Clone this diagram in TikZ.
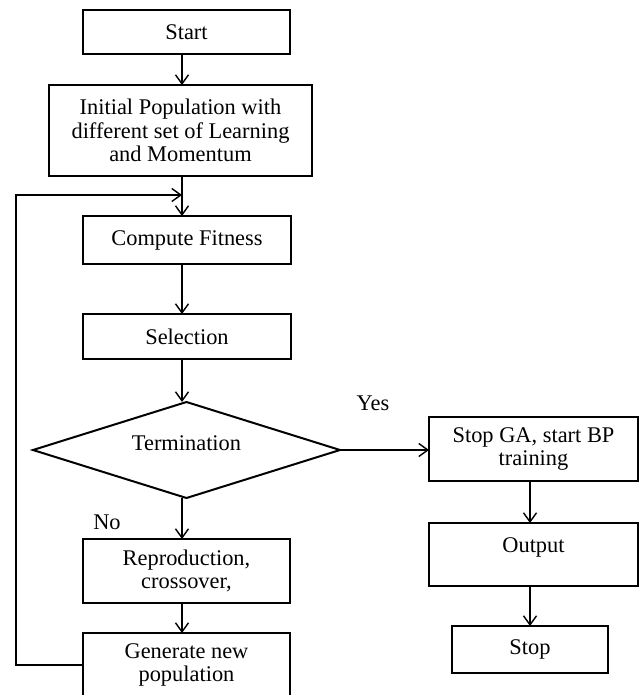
\documentclass[tikz,border=0pt]{standalone}
\usepackage{fontspec}
\setmainfont{Liberation Serif}
\usetikzlibrary{arrows.meta, positioning, shapes.geometric}

\begin{document}
\begin{tikzpicture}[
        box/.style={rectangle, draw=black, line width=1pt, outer sep=0pt, inner sep=0pt, align=center, font=\fontsize{11.2}{11.75}\selectfont},
        dec/.style={diamond, aspect=3.2, draw=black, line width=1pt, outer sep=0pt, inner sep=0pt, font=\fontsize{11.2}{11.75}\selectfont},
        lbl/.style={font=\fontsize{11.2}{11.75}\selectfont, inner sep=0pt},
        arr/.style={-{Straight Barb[length=4.5pt, width=6.5pt]}, line width=0.7pt},
    ]
        \useasboundingbox (0pt,0pt) rectangle (321pt,-347.5pt);
        \clip (0pt,0pt) rectangle (321pt,-347.5pt);
        % left column
        \node[box, minimum width=103.5pt, minimum height=22pt] (start) at (93.25pt,-16pt) {Start};
        \node[box, minimum width=131.5pt, minimum height=45.5pt, below=15.5pt of start, xshift=-3pt] (init) {Initial Population with\\different set of Learning\\and Momentum};
        \node[box, minimum width=104pt, minimum height=24pt, below=20pt of init, xshift=3.25pt] (fit) {Compute Fitness};
        \node[box, minimum width=104pt, minimum height=22.5pt, below=25pt of fit] (sel) {Selection};
        \node[dec, minimum width=153.5pt, minimum height=48pt, below=21.5pt of sel, xshift=-0.25pt, text height=7.5pt, text depth=7pt] (term) {Termination};
        \node[box, minimum width=103.5pt, minimum height=32pt, below=20.5pt of term] (repro) {Reproduction,\\crossover,};
        \node[box, minimum width=103.5pt, minimum height=32pt, below=15pt of repro] (gen) {Generate new\\population};
        % right column
        \node[box, minimum width=104.5pt, minimum height=32pt, right=44.5pt of term, yshift=0.5pt] (stopga) {Stop GA, start BP\\training};
        \node[box, minimum width=104.5pt, minimum height=31.5pt, below=21pt of stopga, text height=7.5pt, text depth=9.6pt] (out) {Output};
        \node[box, minimum width=78pt, minimum height=23.5pt, below=20pt of out, xshift=-1.75pt] (stop) {Stop};
        % labels
        \node[lbl] (yes) at (186.5pt,-201.5pt) {Yes};
        \node[lbl] (no) at (53.5pt,-261pt) {No};
        % connectors
        \coordinate (axis) at (91pt,0pt);
        \coordinate (join) at (91pt,-97.5pt);
        \draw[arr] (start.south -| axis) -- (init.north -| axis);
        \draw[arr] (init.south -| axis) -- (fit.north -| axis);
        \draw[arr] (fit.south -| axis) -- (sel.north -| axis);
        \draw[arr] (sel.south -| axis) -- (term.north -| axis);
        \draw[arr] (term.south -| axis) -- (repro.north -| axis);
        \draw[arr] (repro.south -| axis) -- (gen.north -| axis);
        \draw[arr] (gen.west) -- ++(-33.5pt,0pt) |- (join);
        \draw[arr] (term.east) -- (stopga.west |- term.east);
        \draw[arr] (stopga.south -| stop) -- (out.north -| stop);
        \draw[arr] (out.south -| stop) -- (stop.north);
    \end{tikzpicture}
\end{document}
